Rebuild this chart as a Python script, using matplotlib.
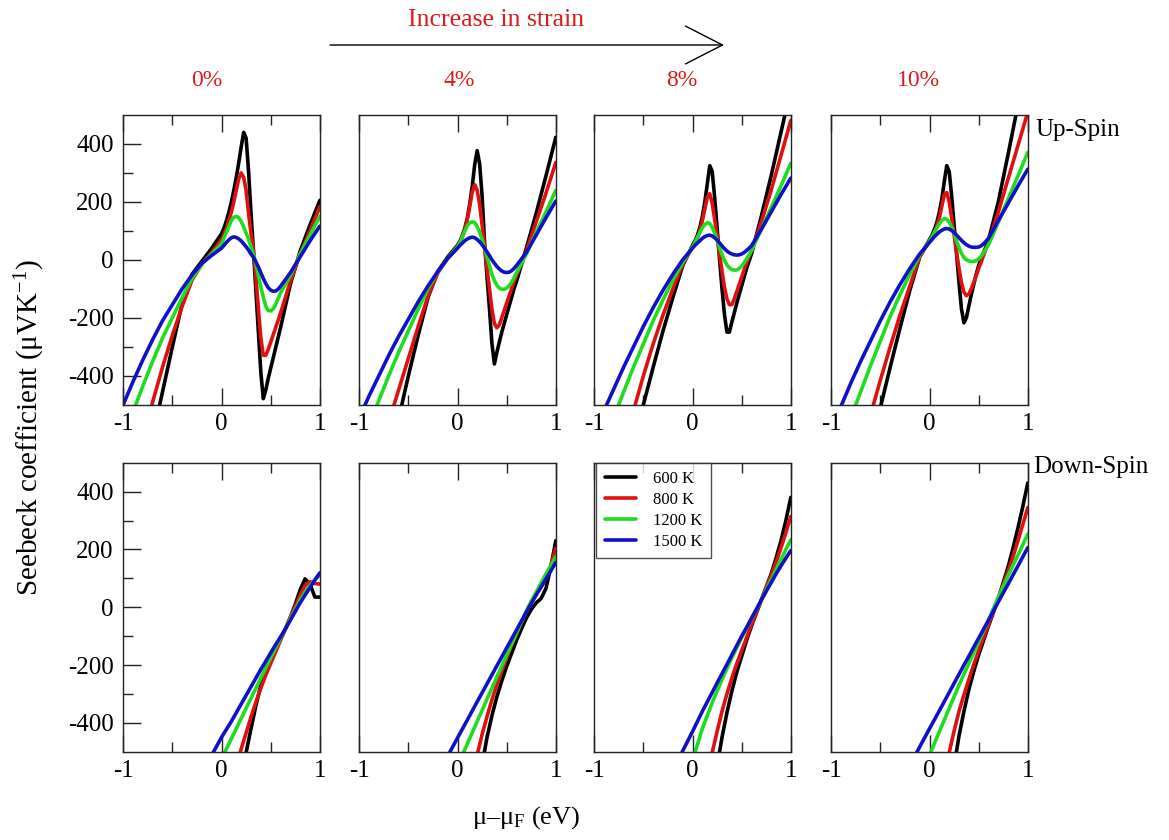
import matplotlib
matplotlib.use("Agg")
import matplotlib.pyplot as plt
from matplotlib.patches import FancyArrowPatch
from matplotlib.ticker import FixedLocator

plt.rcParams['font.family'] = ['Liberation Serif', 'DejaVu Serif']
plt.rcParams['mathtext.fontset'] = 'custom'
plt.rcParams['mathtext.rm'] = 'Liberation Serif'
plt.rcParams['mathtext.it'] = 'Liberation Serif:italic'
plt.rcParams['axes.unicode_minus'] = False

# ---------------- data ----------------
strains = ["0%", "4%", "8%", "10%"]
temps = ["600 K", "800 K", "1200 K", "1500 K"]
colors = ["#000000", "#e01010", "#1edc1e", "#1010c8"]

# energy grid (eV) for up-spin panels
x_up = [-1.0, -0.9, -0.8, -0.7, -0.6, -0.5, -0.4, -0.3, -0.2, -0.1, 0.0,
        0.025, 0.05, 0.075, 0.1, 0.125, 0.15, 0.175, 0.2, 0.225, 0.25, 0.275,
        0.3, 0.325, 0.35, 0.375, 0.4, 0.425, 0.45, 0.475, 0.5, 0.525, 0.55,
        0.575, 0.6, 0.7, 0.8, 0.9, 1.0]

# up-spin, 0 %
up0_600 = [-1100, -930, -770, -610, -455, -300, -150, -50, -5, 40, 90,
           110, 135, 165, 200, 240, 285, 335, 390, 440, 420, 305,
           160, 30, -110, -250, -390, -480, -450, -410, -375, -340, -305,
           -270, -235, -85, 30, 120, 205]
up0_800 = [-860, -740, -615, -490, -370, -260, -160, -70, -15, 25, 70,
           88, 108, 135, 165, 200, 240, 280, 300, 285, 240, 160,
           90, 30, -60, -170, -270, -330, -330, -310, -285, -260, -235,
           -210, -185, -75, 20, 100, 183]
up0_1200 = [-620, -525, -435, -350, -270, -200, -130, -65, -15, 20, 55,
            75, 95, 115, 135, 147, 150, 145, 132, 114, 92, 70,
            45, 20, -15, -55, -95, -130, -160, -175, -177, -170, -155,
            -135, -115, -55, 20, 85, 150]
up0_1500 = [-500, -420, -345, -275, -210, -155, -100, -52, -12, 15, 40,
            50, 60, 69, 76, 79, 77, 72, 65, 55, 45, 33,
            20, 8, -8, -25, -45, -65, -82, -96, -105, -109, -108,
            -102, -92, -45, 10, 65, 116]

# up-spin, 4 %
up4_600 = [-1150, -1000, -850, -700, -550, -400, -260, -130, -40, 10, 50,
           65, 85, 110, 145, 195, 255, 330, 377, 330, 220, 60,
           -60, -170, -290, -360, -320, -285, -250, -220, -190, -160, -130,
           -100, -75, 40, 160, 290, 423]
up4_800 = [-900, -790, -680, -560, -450, -340, -230, -125, -45, 5, 45,
           60, 80, 105, 140, 185, 235, 259, 240, 190, 120, 45,
           -30, -100, -170, -220, -235, -225, -200, -175, -150, -125, -100,
           -75, -55, 30, 130, 230, 336]
up4_1200 = [-650, -570, -485, -400, -320, -245, -170, -100, -40, 5, 45,
            60, 80, 100, 118, 128, 131, 128, 115, 95, 70, 40,
            10, -20, -50, -72, -88, -98, -102, -102, -98, -90, -78,
            -62, -45, 20, 95, 165, 240]
up4_1500 = [-545, -470, -400, -330, -265, -205, -145, -90, -40, 5, 40,
            50, 58, 66, 72, 76, 78, 76, 70, 62, 52, 40,
            27, 14, 0, -12, -23, -32, -39, -43, -44, -43, -38,
            -30, -20, 25, 85, 145, 203]

# up-spin, 8 %
up8_600 = [-1250, -1100, -950, -800, -650, -500, -370, -245, -130, -20, 50,
           65, 85, 112, 150, 200, 262, 325, 305, 215, 110, 0,
           -100, -190, -250, -250, -215, -183, -150, -120, -90, -60, -30,
           -5, 20, 150, 290, 440, 590]
up8_800 = [-1000, -880, -760, -640, -520, -400, -290, -190, -100, -15, 45,
           58, 76, 100, 135, 175, 215, 228, 195, 140, 80, 20,
           -40, -95, -135, -155, -155, -135, -110, -85, -60, -35, -10,
           10, 30, 130, 240, 360, 481]
up8_1200 = [-720, -630, -545, -455, -370, -290, -210, -138, -70, -10, 45,
            60, 78, 95, 110, 122, 128, 125, 112, 92, 68, 42,
            18, -2, -18, -28, -34, -36, -35, -30, -22, -10, 3,
            17, 32, 105, 180, 255, 333]
up8_1500 = [-600, -520, -445, -370, -300, -230, -165, -105, -50, 0, 40,
            50, 58, 66, 74, 80, 84, 85, 82, 76, 68, 58,
            48, 38, 30, 24, 20, 17, 16, 17, 20, 25, 32,
            40, 48, 105, 165, 225, 282]

# up-spin, 10 %
up10_600 = [-1270, -1120, -970, -820, -660, -510, -370, -235, -105, 10, 70,
            85, 105, 130, 165, 210, 270, 325, 305, 220, 120, 20,
            -80, -170, -218, -200, -160, -120, -85, -50, -20, 5, 25,
            45, 68, 200, 365, 535, 710]
up10_800 = [-1030, -910, -790, -660, -535, -415, -300, -190, -90, 10, 65,
            78, 95, 118, 145, 185, 225, 232, 200, 145, 85, 25,
            -30, -80, -112, -124, -118, -100, -78, -55, -30, -8, 15,
            38, 60, 165, 280, 395, 510]
up10_1200 = [-720, -635, -545, -455, -365, -280, -195, -120, -50, 15, 65,
             80, 95, 110, 125, 136, 142, 140, 130, 112, 90, 65,
             42, 22, 8, 0, -4, -6, -6, -3, 3, 12, 24,
             38, 52, 130, 210, 290, 371]
up10_1500 = [-590, -505, -425, -350, -280, -210, -145, -85, -30, 20, 60,
             70, 80, 88, 96, 102, 106, 108, 106, 101, 94, 85,
             76, 67, 59, 52, 47, 44, 43, 43, 44, 48, 55,
             64, 74, 135, 195, 255, 313]

# energy grid (eV) for down-spin panels
x_dn = [-0.2, -0.1, 0.0, 0.1, 0.2, 0.25, 0.3, 0.35, 0.4, 0.45, 0.5,
        0.55, 0.6, 0.65, 0.7, 0.75, 0.8, 0.85, 0.9, 0.95, 1.0]

dn0_600 = [-1200, -1050, -900, -760, -600, -503, -420, -340, -270, -215, -175,
           -140, -110, -75, -35, 10, 60, 98, 80, 35, 35]
dn0_800 = [-1000, -850, -740, -620, -490, -435, -380, -328, -280, -235, -195,
           -155, -115, -75, -35, 3, 40, 75, 88, 82, 80]
dn0_1200 = [-720, -610, -525, -455, -385, -350, -315, -280, -245, -210, -175,
            -142, -108, -75, -40, -8, 25, 52, 75, 95, 111]
dn0_1500 = [-570, -512, -450, -395, -335, -305, -275, -245, -215, -187, -158,
            -130, -103, -75, -45, -15, 15, 42, 68, 94, 119]

dn4_600 = [-1200, -1050, -920, -780, -640, -545, -450, -375, -310, -255, -205,
           -160, -115, -75, -38, -8, 15, 30, 65, 140, 230]
dn4_800 = [-1050, -900, -780, -650, -510, -440, -378, -320, -268, -220, -175,
           -132, -92, -52, -15, 18, 45, 70, 100, 145, 204]
dn4_1200 = [-700, -625, -550, -472, -395, -357, -318, -280, -242, -204, -166,
            -128, -90, -52, -14, 20, 52, 84, 115, 145, 175]
dn4_1500 = [-578, -515, -452, -390, -327, -296, -265, -234, -203, -172, -141,
            -110, -79, -48, -17, 13, 42, 70, 98, 126, 155]

dn8_600 = [-1250, -1100, -950, -800, -640, -550, -450, -365, -290, -225, -170,
           -115, -65, -20, 25, 70, 115, 170, 230, 300, 380]
dn8_800 = [-1100, -950, -810, -650, -503, -430, -360, -300, -245, -195, -150,
           -105, -60, -18, 25, 68, 110, 155, 205, 258, 314]
dn8_1200 = [-820, -640, -530, -420, -330, -290, -250, -212, -175, -140, -105,
            -72, -40, -8, 25, 60, 95, 130, 165, 200, 233]
dn8_1500 = [-565, -497, -430, -360, -295, -262, -230, -198, -165, -133, -100,
            -70, -38, -7, 25, 55, 85, 115, 143, 170, 196]

dn10_600 = [-1250, -1100, -950, -800, -640, -550, -445, -360, -285, -222, -165,
            -115, -65, -18, 30, 85, 140, 205, 275, 350, 430]
dn10_800 = [-1100, -930, -800, -660, -503, -428, -360, -303, -250, -198, -150,
            -105, -60, -15, 30, 78, 125, 175, 230, 287, 345]
dn10_1200 = [-700, -590, -512, -430, -350, -310, -270, -232, -195, -157, -120,
             -82, -45, -5, 35, 72, 110, 145, 180, 217, 253]
dn10_1500 = [-547, -483, -420, -358, -295, -263, -232, -200, -170, -138, -107,
             -76, -45, -13, 18, 50, 80, 112, 143, 175, 206]

up_sets = [[up0_600, up0_800, up0_1200, up0_1500],
           [up4_600, up4_800, up4_1200, up4_1500],
           [up8_600, up8_800, up8_1200, up8_1500],
           [up10_600, up10_800, up10_1200, up10_1500]]
dn_sets = [[dn0_600, dn0_800, dn0_1200, dn0_1500],
           [dn4_600, dn4_800, dn4_1200, dn4_1500],
           [dn8_600, dn8_800, dn8_1200, dn8_1500],
           [dn10_600, dn10_800, dn10_1200, dn10_1500]]

# ---------------- figure ----------------
W, H = 1169, 840
fig = plt.figure(figsize=(W / 100, H / 100), dpi=100)

col_left = [123.3, 359.3, 594.3, 831.3]
pw = 196.5
rows = [(115.0, 404.5), (462.7, 751.7)]
header_x = [207, 459, 682, 918]


def make_ax(c, r):
    top, bot = rows[r]
    ax = fig.add_axes([col_left[c] / W, 1 - bot / H, pw / W, (bot - top) / H])
    ax.set_xlim(-1, 1)
    ax.set_ylim(-500, 500)
    ax.xaxis.set_major_locator(FixedLocator([-1, 0, 1]))
    ax.xaxis.set_minor_locator(FixedLocator([-0.5, 0.5]))
    ax.yaxis.set_major_locator(FixedLocator([-400, -200, 0, 200, 400]))
    ax.yaxis.set_minor_locator(FixedLocator([-300, -100, 100, 300]))
    ax.tick_params(axis='x', which='both', direction='in', top=True, bottom=True,
                   labelsize=18, pad=6, color='#222222')
    ax.tick_params(axis='x', which='major', length=12, width=1)
    ax.tick_params(axis='x', which='minor', length=7, width=1)
    if c == 0:
        ax.tick_params(axis='y', which='both', direction='in', left=True, right=False,
                       labelsize=18, pad=7, color='#222222')
        ax.tick_params(axis='y', which='major', length=13, width=1)
        ax.tick_params(axis='y', which='minor', length=7, width=1)
    else:
        ax.tick_params(axis='y', which='both', left=False, right=False, labelleft=False)
    for s in ax.spines.values():
        s.set_linewidth(1.0)
        s.set_color('#222222')
    return ax


axes_dn = []
for c in range(4):
    ax = make_ax(c, 0)
    for series, col in zip(up_sets[c], colors):
        ax.plot(x_up, series, color=col, lw=2.6, solid_capstyle='round',
                solid_joinstyle='round')
    axb = make_ax(c, 1)
    for series, col, lab in zip(dn_sets[c], colors, temps):
        axb.plot(x_dn, series, color=col, lw=2.6, label=lab,
                 solid_capstyle='round', solid_joinstyle='round')
    axes_dn.append(axb)

leg = axes_dn[2].legend(loc='upper left', bbox_to_anchor=(0.01, 1.0),
                        borderaxespad=0, frameon=True, fancybox=False,
                        edgecolor='#222222', fontsize=12, handlelength=1.9,
                        handletextpad=1.0, labelspacing=0.3, borderpad=0.5)
leg.get_frame().set_linewidth(1.0)

# column headers
for c, s in enumerate(strains):
    fig.text(header_x[c] / W, 1 - 80 / H, s,
             color='#dd1a1a', fontsize=17, ha='center', va='center')

# strain arrow
fig.text(496 / W, 1 - 20 / H, "Increase in strain", color='#dd1a1a',
         fontsize=18.5, ha='center', va='center')
fig.add_artist(FancyArrowPatch(
    (330 / W, 1 - 45 / H), (724 / W, 1 - 45 / H), transform=fig.transFigure,
    arrowstyle='->,head_length=1.33,head_width=0.68', mutation_scale=20,
    lw=1.0, color='black', shrinkA=0, shrinkB=0))

fig.text(1035 / W, 1 - 130 / H, "Up-Spin", fontsize=18, ha='left', va='center')
fig.text(1033 / W, 1 - 467 / H, "Down-Spin", fontsize=18, ha='left', va='center')

fig.text(30 / W, 1 - 428 / H, "Seebeck coefficient (\u03bcVK$^{-1}$)",
         rotation=90, fontsize=21, ha='center', va='center')
fig.text(526 / W, 1 - 818 / H, "\u03bc\u2013\u03bc$_{\\mathrm{F}}$ (eV)",
         fontsize=19, ha='center', va='center')

fig.savefig("out.png", dpi=100, facecolor='white')
